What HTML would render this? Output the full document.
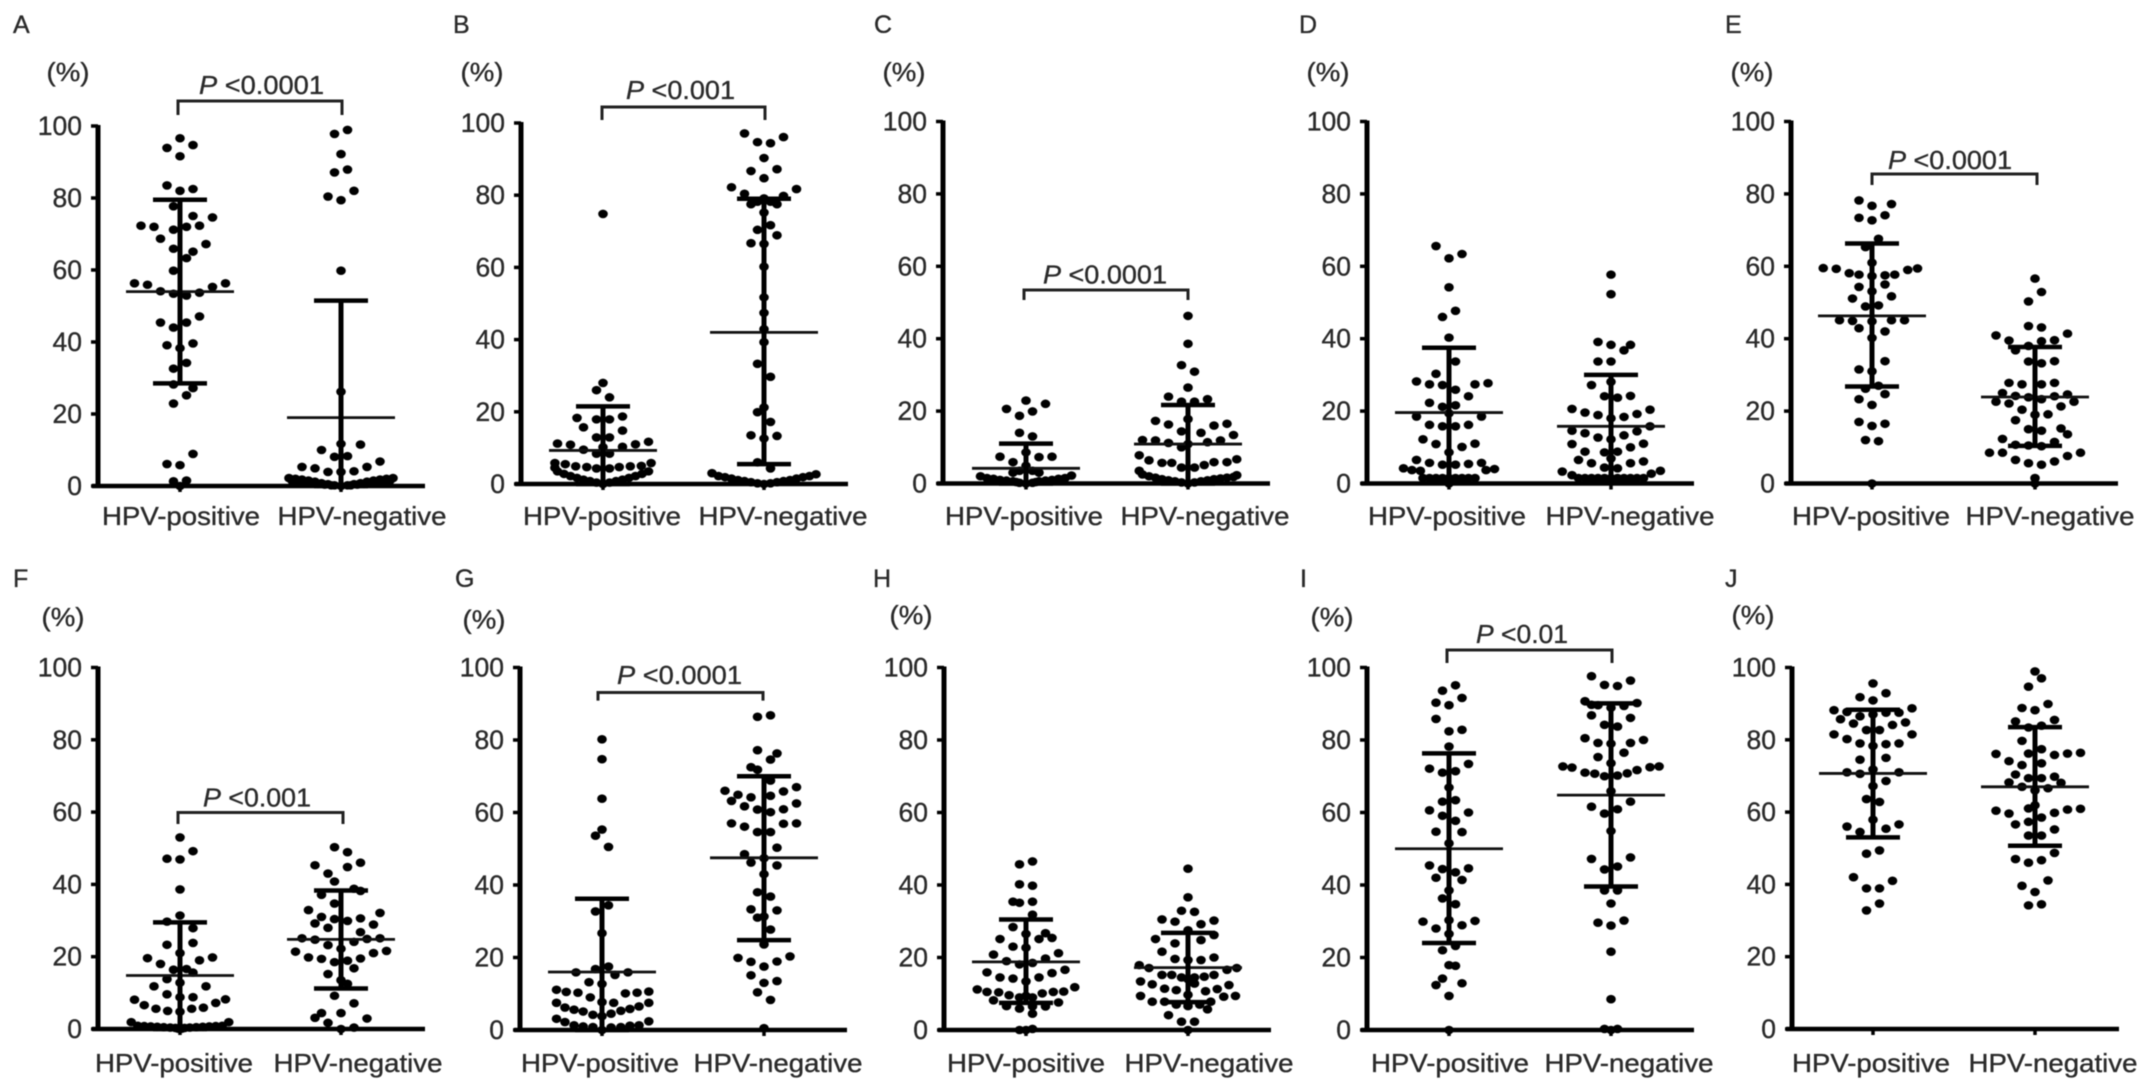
<!DOCTYPE html>
<html>
<head>
<meta charset="utf-8">
<title>HPV-positive vs HPV-negative scatter panels</title>
<style>
html,body{margin:0;padding:0;background:#fff;}
svg{display:block;filter:blur(0.5px);}
text{font-family:"Liberation Sans",sans-serif;fill:#2a2a2a;stroke:#2a2a2a;stroke-width:0.35px;}
</style>
</head>
<body>
<svg id="figure" xmlns="http://www.w3.org/2000/svg" width="2152" height="1091" viewBox="0 0 2152 1091"></svg>
<script>
const categories = ['HPV-positive', 'HPV-negative'];
const tickLabels = [0, 20, 40, 60, 80, 100];

const A_pos_values = [96.6,94.7,93.9,91.6,83.5,82.5,82,77.7,75,74.6,72.3,72,72.3,72,71.2,68.7,67.2,65.9,65.1,63.3,59.8,56.3,55.9,56.3,55.3,54.1,53.4,52.9,53.7,47.1,45.4,45.4,44,39.1,39.6,38.3,34.2,32.6,28.2,27.2,25.2,22.9,8.9,6.1,5.8,1.3,1.5,0];
const A_pos_slots = [0,2,-2,0,-2,2,0,-1,2,5,-6,-4,3,1,-1,-3,4,-1,2,1,-1,-7,-5,7,5,-3,-1,1,3,3,-3,1,-1,-2,2,0,1,-1,-1,2,1,-1,2,-2,0,-1,1,0];
const A_neg_values = [98.9,97.8,92.2,87.9,87.1,82,80.4,79.4,59.8,26.2,11.7,11.5,10,8.1,8.3,6.8,5.3,4.9,5.3,3.9,4.1,3.9,2.2,2,1.8,1.5,1.2,0.8,0.5,0.2,0,0.2,0.5,0.8,1.2,1.5,1.8,2,2.2,1.4,1.2,1,0.8,0.6,0.4,0.2,0.2,0.4,0.6,0.8,1,1.2,1.4];
const A_neg_slots = [1,-1,0,1,-1,2,-2,0,0,0,0,3,-3,-1,1,6,-6,-4,4,-2,2,0,-8,-7,-6,-5,-4,-3,-2,-1,0,1,2,3,4,5,6,7,8,-7.5,-6.5,-5.5,-4.5,-3.5,-2.5,-1.5,1.5,2.5,3.5,4.5,5.5,6.5,7.5];
const A_summary = [[54,79.5,28.5],[19,51.5,0]];

const B_pos_values = [74.8,28,26,24,18.3,18.7,17.9,17.9,15.7,14.8,12.9,12.9,11.2,10.9,11.7,11,10.3,9.5,8.4,8.4,10.2,5.8,5.5,4.9,4.7,4.3,4.3,4.7,4.9,5,5.8,4.5,3.5,2.8,2.2,1.7,1.2,0.8,0.4,0,0.4,0.8,1.2,1.7,2.2,2.8,3.5];
const B_pos_slots = [0,0,-1,1,-4,3,-1,1,-3,3,-1,1,-7,-5,7,5,3,-3,-1,1,0,-7.4,-5.8,-4.2,-2.5,-1,1,2.5,4.2,5.9,7.4,-7.4,-7,-6,-5,-4,-3,-2,-1,0,1,2,3,4,5,6,7];
const B_neg_values = [97.1,96.1,94.7,94.4,90.3,86.7,87.2,84.7,82.2,81.7,80.4,79.8,79.1,78.2,78.2,77.5,77.5,75.2,71.7,70.4,68.9,66.7,66.5,60.2,51.7,47.4,42.9,39.3,33.3,29.7,21.2,19.9,17.2,13.5,13.3,12.6,6,4.3,3,2.7,2.2,1.9,1.5,1.1,0.8,0.5,0.2,0,0.2,0.5,0.8,1.1,1.5,1.9,2.2];
const B_neg_slots = [-3,3,-1,1,0,-2,2,0,-5,5,-3,3,0,-1,1,-2,2,0,1,-1,2,-2,0,0,0,0,0,0,-1,1,0,-1,1,-2,2,0,-1,1,-8,8,-7,-6,-5,-4,-3,-2,-1,0,1,2,3,4,5,6,7];
const B_summary = [[9.3,21.5,0],[42,79,5.5]];

const C_pos_values = [22.9,22,20.6,19.9,18.7,14,13,8.6,7.4,7.4,7.3,5.9,4.9,3.5,3.5,3,3,2,2.2,1.5,1.3,1,0.8,0.6,0.4,0.2,0,0.2,0.4,0.6,0.8,1,1.3,1.5];
const C_pos_slots = [0,3,-3,1,-1,-1,1,0,-4,4,2,-2,0,-1,1,-2,2,-7,7,-6,-5,-4,-3,-2,-1.5,-1,0,1,1.5,2,3,4,5,6];
const C_neg_values = [46.3,38.6,32.7,30.9,26.5,24,23.3,22.6,22.6,17.3,16.5,17.8,16.3,16,14.4,14,13.4,12,11.9,11.2,11.4,11.9,10.9,10,7.8,6.4,5.7,5.7,6.7,5.9,5.9,5.1,4.4,4.4,3.5,2.3,2.5,2,1.6,1.2,0.9,0.6,0.3,0,0.3,0.6,0.9,1.2,1.4,1.6,1.8];
const C_neg_slots = [0,0,-1,1,0,-3,3,-1,1,-5,6,0,-3,4,-1,2,7,-7,-5,-3,3,5,0,-1,-7.5,-6,-4,-2.5,7.5,6,4,2.5,-1,1,-7.5,7.5,-7,-6,-5,-4,-3,-2,-1,0,1,2,3,4,5,6,7];
const C_summary = [[4.2,11,0],[10.9,21.7,0]];

const D_pos_values = [65.6,63.4,62.2,54.2,47.7,46,40.3,33.7,30.3,28.2,27.4,27.2,27.4,27.7,25.9,24.1,22.3,21.2,21.6,18.5,18.5,19.4,16.2,15.8,15.8,16.2,12.2,10.9,11,10.1,8.6,6.5,5.7,5.2,5.2,5.4,5.7,4.2,3.7,3.5,3.7,4,1.5,1.5,1.5,1.5,1.5,1.5,1.5,1.5,1.5,0.7,0.7,0.7,0.7,0.7,0.7,0];
const D_pos_slots = [-2,2,0,0,1,-1,0,1,-2,-5,-3,-1,4,6,1,3,-3,-1,1,-5,5,0,-3,-1,1,3,-4,-2,4,2,0,-5,-3,-1,1,3,5,-7,-5.7,-4.4,5.7,7,-4,-3,-2,-1,0,1,2,3,4,-2.5,-1.5,-0.5,0.5,1.5,2.5,0];
const D_neg_values = [57.7,52.3,39.1,38.3,38.3,36.8,33.7,33.7,27.2,28.1,24.1,23.7,24.2,20.6,20.4,19.6,19.2,18.9,18.4,18,14.6,15.8,14.4,13.9,12.7,13.3,12.2,10.9,11,10,8.8,8.6,8.8,6.9,6.5,5.6,5.6,6.1,4.4,4.2,3.3,2.3,2.7,3.5,1.5,1.5,1.5,1.5,1.5,1.5,1.5,1.5,1.5,1.5,1.5,0.7,0.7,0.7,0.7,0.7,0.7,0.7,0.7];
const D_neg_slots = [0,0,-2,0,3,2,-2,0,-3,0,-1,1,3,-6,6,-4,4,-2,2,0,-6,6,4,-4,-2,2,0,-6,5,3,-4,-1,1,0,-5,-3,3,5,-1,1,-7.5,-6,6.2,7.6,-5,-4,-3,-2,-1,0,1,2,3,4,5,-3.5,-2.5,-1.5,-0.5,0.5,1.5,2.5,3.5];
const D_summary = [[19.6,37.5,1.5],[15.8,30,1.5]];

const E_pos_values = [78.2,77.2,76.7,74.1,73.4,72.7,67.6,65.3,61,59.5,59.3,59.4,59,58.1,57.7,57.7,57.5,57.3,55,54.3,53.1,51.7,51.1,49.2,48.9,45.1,44.9,44.8,45.1,45.1,42.9,42,40.2,33.8,31.5,31,27,26.2,24.7,23.3,21.7,17,16.5,15.9,12,11.7,0];
const E_pos_slots = [-2,3,0,2,-2,0,1,-1,0,-7.5,-5.5,7,5.5,-3.5,3.5,-2,2,0,2,-2,0,3,-3,1,-1,-5,-3,0,3,5,-2,2,0,2,-2,0,1,-1,2,-2,0,-2,2,0,-1,1,0];
const E_neg_values = [56.6,52.9,50.3,43.5,43.1,40.9,41.4,39.5,39.6,39.3,38,36.8,33.7,33.2,33.8,27.8,27.4,27.4,27.8,25,24.6,24.2,23.8,23.3,24.1,22.6,22.1,22.6,21.3,20.4,19,19.1,17.5,15,14.6,15.2,13.6,12.3,10.7,11.5,10.5,10.3,8.5,8.5,8.5,7.6,6.5,5.6,5.2,6.1,1.5,0];
const E_neg_slots = [0,1,-1,-1,1,-6,5,-4,3,1,-1,-3,-1,1,3,-4,-2,1,3,-5,5,-3,-1,1,3,-6,-4,6,4,-2,0,2,-3,-1,1,4,5,-5,-3,3,-1,1,-7,-5,7,5,-3,-1,1,3,0,0];
const E_summary = [[46.3,66.3,26.8],[23.9,37.7,10.4]];

const F_pos_values = [53,49.2,47.1,46.9,38.6,31.4,29.7,27.9,23.3,23.8,21,19.6,19.8,19,18,16.4,16.6,15.6,13.8,12.8,11.8,11.8,9.6,8.8,8.8,8.1,8.2,6.6,7.2,5.6,5,4.8,5.6,5.9,1.9,1.9,0.9,0.8,0.7,0.6,0.5,0.4,0.3,0.1,0,0.1,0.3,0.4,0.5,0.6,0.7,0.8,0.9];
const F_pos_slots = [0,2,-2,0,0,0,-2,2,-2,2,0,-5,5,3,-3,-1,1,2,-2,0,-4,4,-2,2,0,-7,7,-5.5,5.5,-3.7,-1.9,0,1.8,3.6,-7.5,7.5,-6.5,-5.5,-4.5,-3.5,-2.5,-1.5,-0.7,-0.3,0,0.3,0.7,1.5,2.5,3.5,4.5,5.5,6.5];
const F_neg_values = [50.3,48.9,46,45.3,44.8,43,40.8,38.8,38.2,37.1,34.7,32.9,32.1,31,30.4,29.9,30.6,29.2,28.9,28,26.8,25.1,25.1,24.7,24.9,23.2,24.1,22.2,21.4,21.6,21,19.8,19.4,19.5,18.5,18.9,16.8,15.2,13.5,12.5,9.2,7.1,4.4,4.4,3.1,2.9,1.7,0,0.4];
const F_neg_slots = [-1,1,3,-4,1,-2,-1,2,3,-3,-1,-5,6,-3,-1,1,3,-4,5,-2,3,-6,6,-4,4,-2,2,0,-7,7,5,-5,-3,3,-1,1,2,-2,0,1,-1,2,-3,0,-4,4,-2,0,2];
const F_summary = [[14.8,29.5,0],[24.8,38.3,11.2]];

const G_pos_values = [80.2,74.7,63.8,55.3,53.6,50.5,34.4,32.7,26.7,17.5,16.8,15.9,15.9,15.2,13.2,12.7,11.1,10.5,10.3,10.1,10.3,10.6,9,7.7,7.5,7.5,7.5,6.2,5.6,5.1,4.2,3.8,4.5,5.3,5.8,6.5,3.1,2.2,2.4,1.3,1,0.8,0,0.7,0.8,1.2,1.3];
const G_pos_slots = [0,0,0,0,-1,1,1,-1,0,1,-1,-4,4,2,-2,0,-7,-5.5,-3.7,3.6,5.4,7.2,-1.8,0,1.8,-7,7.2,-5.7,-4.3,-2.9,-1.4,0,1.4,2.9,4.3,5.7,-7,-5.7,7.2,-4.3,-2.9,-1.4,0,1.4,2.9,4.3,5.7];
const G_neg_values = [86.8,86.4,77.2,76.3,74.6,72.5,71.8,68.8,66,67,64.9,64.2,64.6,65.8,63.2,62.5,61.7,60.8,60.1,60.9,57,56.1,56.9,57,54.6,54.6,50.3,48.5,47.4,46.2,45.4,43,38,36.8,33.3,33,31,31.3,27.7,23.6,19.9,20.3,18.8,18.9,17.5,15.1,13.5,13,10.4,8.3,0.5];
const G_neg_slots = [1,-1,-1,2,1,-2,-1,1,-6,5,-4,-2,1,3,-5,5,-3,-1,1,3,-5,-3,3,5,-1,1,2,-3,0,-2,2,0,-1,1,-2,2,-1,0,1,0,-4,4,-2,2,0,-2,2,0,-1,1,0];
const G_summary = [[16,36.2,0],[47.5,70,24.8]];

const H_pos_values = [46.5,45.7,40.2,39.8,35.4,35.1,35.4,31.8,28.4,26.7,26.5,25.4,25.1,25.1,23,22.7,20.8,21.2,19.7,19,18.5,18.1,15.9,16.6,15.7,14.5,14.2,14.5,13.4,11.2,11.8,10.5,10.4,9.6,10.6,10.5,10.1,9,9,9.4,8.2,7.6,6.6,6.5,5.9,6.5,4.5,0,0.3,0];
const H_pos_slots = [1,-1,-1,1,-2,-1,1,1,-2,3,0,4,2,-4,-2,0,-5,5,3,-3,1,-1,-6,6,4,-4,-2,2,0,-7.5,7.5,-6,-4.2,-2.6,5.8,4.2,2.5,-1,1,0,-5,5,-3,3,-1,1,1,-1,1,0];
const H_neg_values = [44.5,36.6,32.9,32.6,30.5,30.2,29.9,29.2,27.5,26.2,25.1,24.8,23.9,21.6,20,19.6,19.3,19.3,17.9,17.1,17.1,16.6,15.2,15.2,15.2,14.7,14.5,14.5,14,12.8,13.4,12.6,11.4,11,12.4,11.3,10.7,9.7,9.4,9.4,9.2,7.8,7.8,7,7.8,7,6.6,5.7,4.1,2.3,2.3,0];
const H_neg_slots = [0,0,-1,1,-4,4,-2,2,0,4,-5,2,-2,-4,4,-2,2,0,-7.5,-6,7.5,6,-4,-2.5,4,2.5,-1,1,0,1,-7.3,-5.5,-3.6,-1.8,6.3,4.5,2.7,0,-7.3,7.3,5.5,-5.5,-3.6,-1.8,3.5,1.8,0,3,-3,-1,1,0];
const H_summary = [[18.8,30.5,7.5],[17.2,26.8,7.7]];

const I_pos_values = [95.1,93.6,91.6,90.3,89.6,85.8,82.8,82.4,78.2,73.4,72.1,71.4,71,66.9,63.4,63,60.6,60,59.1,57.7,54.7,54.6,51.5,45.4,44.6,44.4,43.5,42,41.4,38.5,36.3,34.7,29.9,30.1,30.3,28,28.9,26.5,22,23.2,17.9,17.7,14.2,12.4,12.9,9.4,0];
const I_pos_slots = [1,-1,2,-2,0,-2,2,0,0,3,-3,1,-1,0,1,-1,-3,3,-1,1,-2,2,0,-3,3,-1,1,-2,2,0,-1,1,-4,4,0,-2,2,0,-1,1,0,1,-1,-2,2,0,0];
const I_neg_values = [97.6,96.4,95.2,94.9,90.7,89.7,90.2,89.6,89.4,88.9,86.8,86.1,84.2,83.7,80.5,80,79.2,79,79.2,76.5,75.3,73.6,72.7,72.4,72.7,72.5,71.7,71,70.7,70.8,70,70.2,65.9,63,61.6,60.9,59.7,54.9,47.2,47.6,45.1,44.3,38.5,38.5,34.9,29.6,30.2,28.8,21.6,8.5,0.3,0.3,0];
const I_neg_slots = [-3,3,-1,1,-4,-3,4,-2,2,0,-3,3,-1,1,-4,5,-2,0,3,2,-2,0,-7.4,-6,7.4,6,4,-4,-2.5,2.5,-1,1,0,3,-3,1,-1,0,-3,3,1,-1,-1,1,0,-2,2,0,0,0,-1,1,0];
const I_summary = [[50,76.3,24],[64.8,90.1,39.6]];

const J_pos_values = [95.6,92.9,91.8,90.9,88.7,88.2,87.7,86.5,87,87.5,87.5,85.7,84.8,84.5,84.1,82.7,82.7,81.5,81.5,80.2,79,78.8,79,78.3,75,74.5,71.8,71,70.6,71,68.6,67.2,63.6,62.8,57.9,56,56.6,55.4,54.5,49.4,48.5,42,41,38.9,38.9,34.7,32.8];
const J_pos_slots = [0,2,-2,0,6,-6,-4,-2,0,2,4,-5,5,-3,3,-1,1,6,-6,-4,-2,2,4,0,2,-2,0,-4,-2,4,2,0,-1,1,0,-4,4,2,-2,1,-1,-3,3,-1,1,1,-1];
const J_neg_values = [98.9,97,94.7,89.9,88.8,88.2,85.5,85.1,83.4,83.9,79.7,77.4,76.4,76.2,76.1,75.8,76.2,74.1,73.5,73,70.4,69.8,69.4,69.4,68.1,68.2,67,66.6,66,61.9,60.9,60.7,60.4,59.6,61,59.8,58.5,56.6,57.3,55.2,53.5,53.5,48.7,47,46.7,46,41.1,39.6,37.9,34.2,34.5];
const J_neg_slots = [0,1,-1,2,-2,0,3,-3,-1,1,-2,1,7,5,-6,3,-1,-4,1,-2,-3,3,-1,1,4,-4,-2,2,0,0,7,5,-6,-4,-1,3,1,-3,-1,3,-1,1,3,-3,1,-1,2,-2,0,-1,1];
const J_summary = [[70.7,88.3,53],[67,83.5,50.7]];

const A_pvalue = ' <0.0001';
const B_pvalue = ' <0.001';
const C_pvalue = ' <0.0001';
const E_pvalue = ' <0.0001';
const F_pvalue = ' <0.001';
const G_pvalue = ' <0.0001';
const I_pvalue = ' <0.01';

const panels = [
 {id:'A',lx:13,ly:33,ax:98,y0:486,y100:126,c:[180,341],lab:[181,362],base:525,pct:[68,81],pos:A_pos_values,posS:A_pos_slots,neg:A_neg_values,negS:A_neg_slots,sum:A_summary,p:A_pvalue,pl:[199,94,125],br:[178,342,101,115]},
 {id:'B',lx:453,ly:33,ax:521,y0:484,y100:123,c:[603,764],lab:[602,783],base:525,pct:[482,81],pos:B_pos_values,posS:B_pos_slots,neg:B_neg_values,negS:B_neg_slots,sum:B_summary,p:B_pvalue,pl:[626,99,109],br:[602,765,107,120]},
 {id:'C',lx:874,ly:33,ax:943,y0:483.5,y100:121.5,c:[1026,1188],lab:[1024,1205],base:525,pct:[904,81],pos:C_pos_values,posS:C_pos_slots,neg:C_neg_values,negS:C_neg_slots,sum:C_summary,p:C_pvalue,pl:[1043,283.5,124],br:[1024,1188,290,300]},
 {id:'D',lx:1299,ly:33,ax:1367,y0:483.5,y100:121.5,c:[1449,1611],lab:[1447,1630],base:525,pct:[1328,81],pos:D_pos_values,posS:D_pos_slots,neg:D_neg_values,negS:D_neg_slots,sum:D_summary},
 {id:'E',lx:1725,ly:33,ax:1791,y0:483.5,y100:121.5,c:[1872,2035],lab:[1871,2050],base:525,pct:[1752,81],pos:E_pos_values,posS:E_pos_slots,neg:E_neg_values,negS:E_neg_slots,sum:E_summary,p:E_pvalue,pl:[1888,169,124],br:[1872,2037,174,185]},
 {id:'F',lx:13,ly:587,ax:98,y0:1029,y100:667.5,c:[180,341],lab:[174,358],base:1072,pct:[63,626],pos:F_pos_values,posS:F_pos_slots,neg:F_neg_values,negS:F_neg_slots,sum:F_summary,p:F_pvalue,pl:[203,806.5,108],br:[178,343,812.5,824]},
 {id:'G',lx:455,ly:587,ax:520,y0:1030,y100:667.5,c:[602,764],lab:[600,778],base:1072,pct:[484,628.5],pos:G_pos_values,posS:G_pos_slots,neg:G_neg_values,negS:G_neg_slots,sum:G_summary,p:G_pvalue,pl:[617,684,125],br:[598,763,692.5,700.6]},
 {id:'H',lx:873,ly:587,ax:944,y0:1030,y100:667.5,c:[1026,1188],lab:[1026,1209],base:1072,pct:[911,624],pos:H_pos_values,posS:H_pos_slots,neg:H_neg_values,negS:H_neg_slots,sum:H_summary},
 {id:'I',lx:1300,ly:587,ax:1367,y0:1030,y100:667.5,c:[1449,1611],lab:[1450,1629],base:1072,pct:[1332,626],pos:I_pos_values,posS:I_pos_slots,neg:I_neg_values,negS:I_neg_slots,sum:I_summary,p:I_pvalue,pl:[1476,643,92],br:[1447,1612,650,663]},
 {id:'J',lx:1725,ly:587,ax:1792,y0:1029,y100:667.5,c:[1873,2035],lab:[1871,2053],base:1072,pct:[1753,624],pos:J_pos_values,posS:J_pos_slots,neg:J_neg_values,negS:J_neg_slots,sum:J_summary}
];

const svg = document.getElementById('figure');
const NS = 'http://www.w3.org/2000/svg';
const SLOT = 6.5;

function make(tag, attrs, parent) {
  const el = document.createElementNS(NS, tag);
  for (const k in attrs) el.setAttribute(k, attrs[k]);
  parent.appendChild(el);
  return el;
}

function line(x1, y1, x2, y2, w, color, parent) {
  return make('line', {x1: x1, y1: y1, x2: x2, y2: y2, 'stroke-width': w, stroke: color}, parent);
}

function drawSeries(g, cx, yScale, values, slots, summary) {
  values.forEach(function (v, i) {
    const dot = make('ellipse', {cx: cx + slots[i] * SLOT, cy: yScale(v), rx: 4.8, ry: 4.3, fill: '#000'}, g);
    
    
  });
  const mean = line(cx - 54, yScale(summary[0]), cx + 54, yScale(summary[0]), 2.8, '#111', g);
  
  
  const bar = line(cx, yScale(summary[1]), cx, yScale(summary[2]), 5, '#000', g);
  
  
  const capTop = line(cx - 27, yScale(summary[1]), cx + 27, yScale(summary[1]), 4.5, '#000', g);
  
  
  const capLow = line(cx - 27, yScale(summary[2]), cx + 27, yScale(summary[2]), 4.5, '#000', g);
  
  
}

panels.forEach(function (p) {
  const g = make('g', {}, svg);
  
  
  const yScale = function (v) { return p.y0 - (v / 100) * (p.y0 - p.y100); };

  const letter = make('text', {x: p.lx, y: p.ly, 'font-size': 25}, g);
  letter.textContent = p.id;
  
  

  const unit = make('text', {x: p.pct[0], y: p.pct[1], 'font-size': 26, 'text-anchor': 'middle', textLength: 43, lengthAdjust: 'spacingAndGlyphs'}, g);
  unit.textContent = '(%)';
  
  

  const axisY = line(p.ax, yScale(100) - 1, p.ax, p.y0 + 2, 5, '#000', g);
  
  
  const axisX = line(p.ax - 6, p.y0, p.ax + 327, p.y0, 4.6, '#000', g);
  
  

  tickLabels.forEach(function (t) {
    const tick = line(p.ax - 7, yScale(t), p.ax, yScale(t), 3.5, '#000', g);
    
    
    const lbl = make('text', {x: p.ax - 16, y: yScale(t) + 9, 'font-size': 26.5, 'text-anchor': 'end'}, g);
    lbl.textContent = String(t);
    
    
  });

  const widths = [158, 169];
  categories.forEach(function (name, i) {
    const tick = line(p.c[i], p.y0, p.c[i], p.y0 + 6, 3.5, '#000', g);
    
    
    const lbl = make('text', {x: p.lab[i], y: p.base, 'font-size': 26, 'text-anchor': 'middle', textLength: widths[i], lengthAdjust: 'spacingAndGlyphs'}, g);
    lbl.textContent = name;
    
    
  });

  drawSeries(g, p.c[0], yScale, p.pos, p.posS, p.sum[0]);
  drawSeries(g, p.c[1], yScale, p.neg, p.negS, p.sum[1]);

  if (p.p) {
    const b = p.br;
    const bracket = make('path', {d: 'M' + b[0] + ' ' + b[3] + 'V' + b[2] + 'H' + b[1] + 'V' + b[3], fill: 'none', stroke: '#222', 'stroke-width': 3}, g);
    
    
    const t = make('text', {x: p.pl[0], y: p.pl[1], 'font-size': 26, textLength: p.pl[2], lengthAdjust: 'spacingAndGlyphs'}, g);
    
    
    const it = make('tspan', {'font-style': 'italic'}, t);
    it.textContent = 'P';
    const rest = make('tspan', {}, t);
    rest.textContent = p.p;
  }
});
</script>
</body>
</html>
